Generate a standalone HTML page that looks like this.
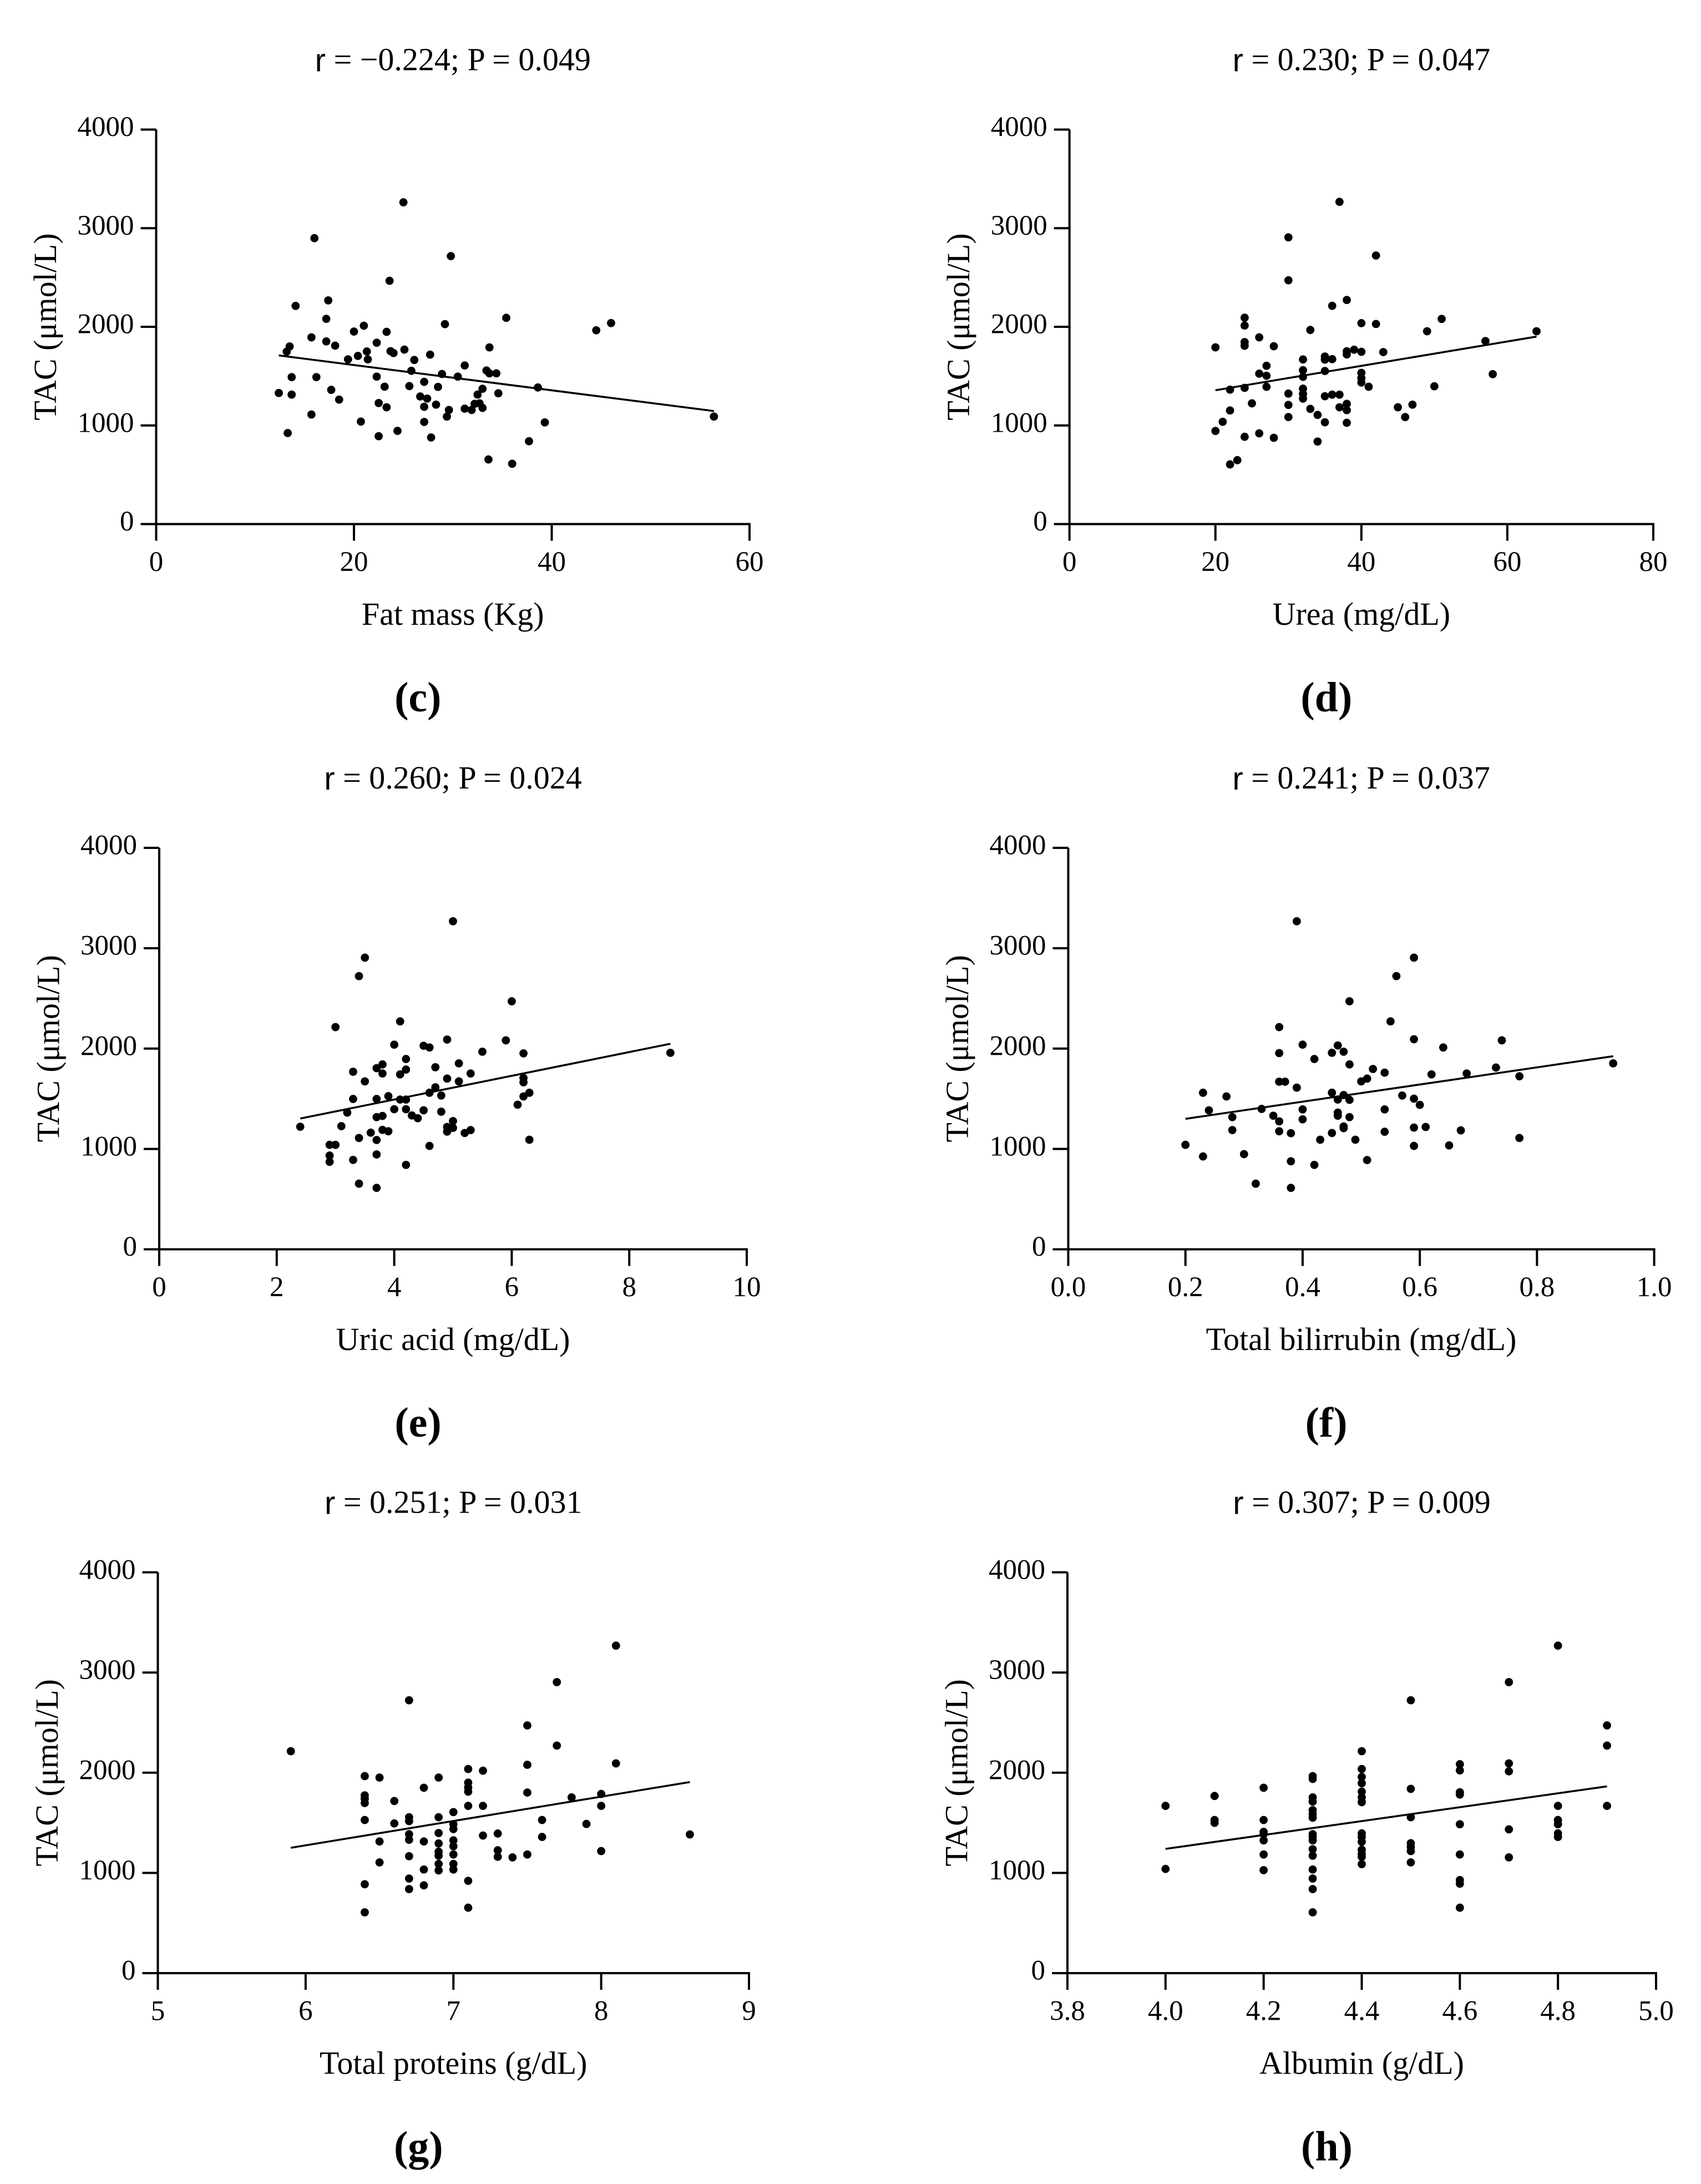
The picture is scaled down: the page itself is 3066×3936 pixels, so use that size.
<!DOCTYPE html>
<html><head><meta charset="utf-8"><style>
html,body{margin:0;padding:0;background:#fff;}
svg{display:block;}
text{font-family:"Liberation Serif",serif;fill:#000;}
</style></head><body>
<svg id="fig" xmlns="http://www.w3.org/2000/svg" width="3066" height="3936" viewBox="0 0 3066 3936"></svg>
<script>
// ---- Panel c: Fat mass ----
const cX=[25.0,16.0,29.8,23.6,14.1,17.4,17.2,35.4,29.2,44.5,46.0,21.0,20.0,23.3,15.7,17.2,18.1,13.5,13.2,22.3,33.7,21.3,23.7,24.0,25.1,20.4,21.4,19.4,26.1,27.7,31.2,25.8,28.9,30.5,33.4,33.7,34.4,22.3,13.7,16.2,27.1,23.1,25.6,28.5,33.0,38.6,32.5,34.6,12.4,13.7,17.7,26.7,27.4,18.5,22.5,23.3,27.1,28.3,29.6,29.4,31.2,31.9,32.2,32.7,33.0,15.7,20.7,27.1,39.3,56.4,13.3,22.5,24.4,27.8,37.7,33.6,36.0];
const cY=[3262,2899,2717,2467,2212,2268,2081,2091,2027,1965,2038,2011,1952,1949,1893,1852,1809,1801,1748,1839,1791,1750,1753,1734,1769,1705,1670,1670,1664,1718,1608,1554,1522,1495,1557,1528,1528,1495,1490,1490,1442,1393,1399,1391,1372,1385,1313,1326,1329,1313,1361,1294,1272,1262,1227,1184,1189,1211,1157,1090,1170,1157,1219,1224,1178,1111,1039,1036,1031,1090,923,891,945,878,840,655,612];
const cFitX=[12.4,56.4];
const cFitY=[1710,1146];
const cTicks=[0,20,40,60];
// ---- Panel d: Urea ----
const dX=[37,30,42,30,36,38,24,24,51,40,42,33,49,64,26,20,24,24,28,57,38,38,39,40,43,32,35,35,36,27,32,35,26,27,32,40,40,40,41,58,50,22,24,27,30,32,32,32,35,36,37,25,30,38,38,37,33,45,47,22,30,34,46,21,35,38,20,24,26,28,34,22,23];
const dY=[3267,2907,2723,2472,2213,2272,2093,2013,2080,2037,2029,1968,1955,1955,1893,1792,1845,1808,1803,1856,1752,1720,1768,1747,1744,1669,1699,1667,1672,1605,1560,1552,1525,1504,1493,1533,1480,1435,1392,1520,1397,1363,1381,1392,1323,1373,1320,1272,1296,1312,1312,1224,1208,1219,1155,1184,1168,1184,1211,1152,1085,1107,1085,1037,1032,1027,944,885,920,875,837,605,648];
const dFitX=[20,64];
const dFitY=[1357,1901];
const dTicks=[0,20,40,60,80];
// ---- Panel e: Uric acid ----
const eX=[5.0,3.5,3.4,6.0,3.0,4.1,4.0,4.9,4.5,4.6,5.9,5.5,6.2,4.2,3.8,3.7,3.8,4.2,4.1,3.3,4.7,5.1,5.3,3.5,4.9,5.1,6.2,6.2,4.7,4.6,4.8,6.3,6.2,3.3,3.7,3.9,4.1,4.2,6.1,4.0,4.2,4.5,4.8,3.2,4.3,4.4,3.7,3.8,2.4,3.1,5.0,4.9,4.9,5.0,3.8,3.9,3.6,3.4,3.7,5.2,5.3,2.9,3.0,4.6,6.3,2.9,2.9,3.3,3.7,4.2,3.4,3.7,8.7];
const eY=[3269,2906,2722,2471,2214,2271,2039,2090,2028,2011,2082,1969,1952,1896,1842,1805,1752,1791,1743,1769,1814,1853,1752,1673,1701,1673,1707,1664,1614,1560,1532,1560,1523,1498,1498,1526,1492,1492,1441,1396,1396,1385,1371,1362,1334,1306,1317,1329,1221,1227,1278,1219,1173,1210,1190,1176,1162,1109,1089,1159,1188,1041,1041,1030,1092,934,872,891,945,841,654,612,1958];
const eFitX=[2.4,8.7];
const eFitY=[1303,2048];
const eTicks=[0,2,4,6,8,10];
// ---- Panel f: Total bilirubin ----
const fX=[0.39,0.59,0.56,0.48,0.55,0.36,0.59,0.74,0.40,0.46,0.64,0.45,0.47,0.36,0.42,0.48,0.52,0.54,0.62,0.68,0.73,0.77,0.93,0.51,0.50,0.36,0.37,0.39,0.23,0.27,0.45,0.47,0.46,0.48,0.57,0.59,0.60,0.24,0.33,0.40,0.54,0.28,0.35,0.36,0.40,0.46,0.46,0.48,0.47,0.47,0.59,0.61,0.67,0.28,0.36,0.38,0.45,0.54,0.43,0.49,0.77,0.20,0.59,0.65,0.23,0.30,0.38,0.42,0.51,0.32,0.38];
const fY=[3269,2906,2722,2471,2271,2214,2093,2082,2039,2031,2011,1958,1969,1955,1896,1842,1797,1760,1743,1752,1811,1724,1853,1701,1673,1670,1670,1611,1560,1523,1560,1537,1492,1489,1532,1501,1439,1385,1399,1394,1394,1317,1331,1275,1295,1362,1331,1317,1224,1207,1213,1219,1185,1188,1176,1157,1159,1171,1092,1092,1109,1041,1030,1035,925,948,877,841,889,654,612];
const fFitX=[0.20,0.93];
const fFitY=[1300,1924];
const fTicks=["0.0","0.2","0.4","0.6","0.8","1.0"];
// ---- Panel g: Total proteins ----
const gX=[8.1,7.7,6.7,7.5,7.7,5.9,7.5,8.1,7.1,7.2,6.4,6.5,6.9,6.8,7.1,7.1,7.1,7.5,6.4,6.4,6.4,6.6,7.8,8.0,8.0,7.1,7.2,7.0,6.7,6.7,6.9,6.4,6.6,7.6,7.9,7.0,7.0,6.7,6.9,7.3,7.2,7.6,8.6,6.5,6.7,6.8,6.9,7.0,7.0,6.9,6.9,7.0,6.7,7.3,7.3,7.4,7.5,8.0,6.5,6.9,6.9,7.0,7.0,6.8,6.7,6.4,6.7,6.8,7.1,7.1,6.4];
const gY=[3268,2904,2723,2472,2271,2215,2079,2093,2037,2020,1966,1952,1952,1850,1901,1853,1811,1802,1774,1740,1698,1718,1754,1788,1669,1669,1669,1607,1556,1517,1556,1528,1494,1528,1489,1486,1438,1387,1398,1393,1373,1359,1384,1314,1331,1314,1294,1325,1266,1212,1172,1184,1167,1226,1161,1155,1184,1218,1105,1090,1025,1090,1034,1034,944,887,839,876,921,653,607];
const gFitX=[5.9,8.6];
const gFitY=[1251,1907];
const gTicks=[5,6,7,8,9];
// ---- Panel h: Albumin ----
const hX=[4.0,4.0, 4.1,4.1,4.1, 4.2,4.2,4.2,4.2,4.2,4.2,4.2,
 4.3,4.3,4.3,4.3,4.3,4.3,4.3,4.3,4.3,4.3,4.3,4.3,4.3,4.3,4.3,4.3,
 4.4,4.4,4.4,4.4,4.4,4.4,4.4,4.4,4.4,4.4,4.4,4.4,4.4,4.4,
 4.5,4.5,4.5,4.5,4.5,4.5,4.5, 4.6,4.6,4.6,4.6,4.6,4.6,4.6,4.6,4.6,
 4.7,4.7,4.7,4.7,4.7, 4.8,4.8,4.8,4.8,4.8,4.8, 4.9,4.9,4.9];
const hY=[1669,1040, 1768,1528,1500, 1850,1528,1410,1387,1325,1184,1028,
 1966,1938,1754,1712,1627,1585,1551,1387,1359,1325,1237,1172,1034,944,839,607,
 2215,2037,1958,1895,1811,1754,1706,1395,1359,1311,1232,1189,1161,1088,
 2723,1839,1556,1297,1260,1218,1105, 2085,2023,1805,1782,1486,1184,929,893,653,
 2904,2093,2014,1435,1155, 3268,1669,1528,1486,1395,1359, 2472,2271,1669];
const hFitX=[4.0,4.9];
const hFitY=[1240,1864];
const hTicks=["3.8","4.0","4.2","4.4","4.6","4.8","5.0"];
const yTicks=[0,1000,2000,3000,4000];

const NS="http://www.w3.org/2000/svg";
const svg=document.getElementById('fig');
function mk(tag,attrs,parent,txt){const e=document.createElementNS(NS,tag);for(const k in attrs)e.setAttribute(k,attrs[k]);if(txt!==undefined)e.textContent=txt;parent.appendChild(e);return e;}

const panels=[
 {key:'c',title:'\u00a0= \u22120.224; P = 0.049',xl:'Fat mass (Kg)',X:cX,Y:cY,FX:cFitX,FY:cFitY,T:cTicks,x0:281.5,x1:1351,yT:233.5,yB:944.5},
 {key:'d',title:'\u00a0= 0.230; P = 0.047',xl:'Urea (mg/dL)',X:dX,Y:dY,FX:dFitX,FY:dFitY,T:dTicks,x0:1927.7,x1:2980,yT:233.5,yB:944.5},
 {key:'e',title:'\u00a0= 0.260; P = 0.024',xl:'Uric acid (mg/dL)',X:eX,Y:eY,FX:eFitX,FY:eFitY,T:eTicks,x0:287,x1:1346,yT:1528,yB:2251.5},
 {key:'f',title:'\u00a0= 0.241; P = 0.037',xl:'Total bilirrubin (mg/dL)',X:fX,Y:fY,FX:fFitX,FY:fFitY,T:fTicks,x0:1925.5,x1:2981.6,yT:1528,yB:2251.5},
 {key:'g',title:'\u00a0= 0.251; P = 0.031',xl:'Total proteins (g/dL)',X:gX,Y:gY,FX:gFitX,FY:gFitY,T:gTicks,x0:284.5,x1:1350,yT:2833.6,yB:3556},
 {key:'h',title:'\u00a0= 0.307; P = 0.009',xl:'Albumin (g/dL)',X:hX,Y:hY,FX:hFitX,FY:hFitY,T:hTicks,x0:1924,x1:2985,yT:2833.6,yB:3556}
];

panels.forEach(p=>{
  const g=mk('g',{},svg);
  
  
  const tmin=parseFloat(p.T[0]), tmax=parseFloat(p.T[p.T.length-1]);
  const sx=v=>p.x0+(v-tmin)/(tmax-tmin)*(p.x1-p.x0);
  const sy=v=>p.yB-(v-0)/(4000-0)*(p.yB-p.yT);
  const cx=(p.x0+p.x1)/2;
  // title: sans "r" followed by serif rest
  const t=mk('text',{x:cx,y:p.yT-120,'text-anchor':'middle','dominant-baseline':'middle','font-size':58},g);
  
  
  const r=mk('tspan',{'font-family':'Liberation Sans, sans-serif'},t,'r');
  
  
  mk('tspan',{},t,p.title.replace('\u00a0',' '));
  // axes
  const ya=mk('line',{x1:p.x0,y1:p.yT,x2:p.x0,y2:p.yB,stroke:'#000','stroke-width':4},g);
  
  
  const xa=mk('line',{x1:p.x0-28,y1:p.yB,x2:p.x1+2,y2:p.yB,stroke:'#000','stroke-width':4},g);
  
  
  yTicks.forEach(v=>{
    const y=sy(v);
    const tk=mk('line',{x1:p.x0-28,y1:y,x2:p.x0,y2:y,stroke:'#000','stroke-width':4},g);
    
    
    const tl=mk('text',{x:p.x0-40,y:y,'text-anchor':'end','dominant-baseline':'middle','font-size':51},g,String(v));
    
    
  });
  p.T.forEach(v=>{
    const x=sx(parseFloat(v));
    const tk=mk('line',{x1:x,y1:p.yB,x2:x,y2:p.yB+30,stroke:'#000','stroke-width':4},g);
    
    
    const tl=mk('text',{x:x,y:p.yB+73,'text-anchor':'middle','dominant-baseline':'middle','font-size':51},g,String(v));
    
    
  });
  const ymid=(p.yT+p.yB)/2, ytx=p.x0-194;
  const yt=mk('text',{x:ytx,y:ymid,'text-anchor':'middle','dominant-baseline':'middle','font-size':58,transform:'rotate(-90 '+ytx+' '+ymid+')'},g,'TAC (\u03bcmol/L)');
  
  
  const xt=mk('text',{x:cx,y:p.yB+168,'text-anchor':'middle','dominant-baseline':'middle','font-size':58},g,p.xl);
  
  
  const lb=mk('text',{x:cx-63,y:p.yB+320,'text-anchor':'middle','dominant-baseline':'middle','font-size':76,'font-weight':'bold'},g,'('+p.key+')');
  
  
  // regression line
  const fl=mk('line',{x1:sx(p.FX[0]),y1:sy(p.FY[0]),x2:sx(p.FX[1]),y2:sy(p.FY[1]),stroke:'#000','stroke-width':3.5},g);
  
  
  // points
  for(let i=0;i<p.X.length;i++){
    const c=mk('circle',{cx:sx(p.X[i]),cy:sy(p.Y[i]),r:7.4,fill:'#000'},g);
    
    
  }
});
</script>
</body></html>
